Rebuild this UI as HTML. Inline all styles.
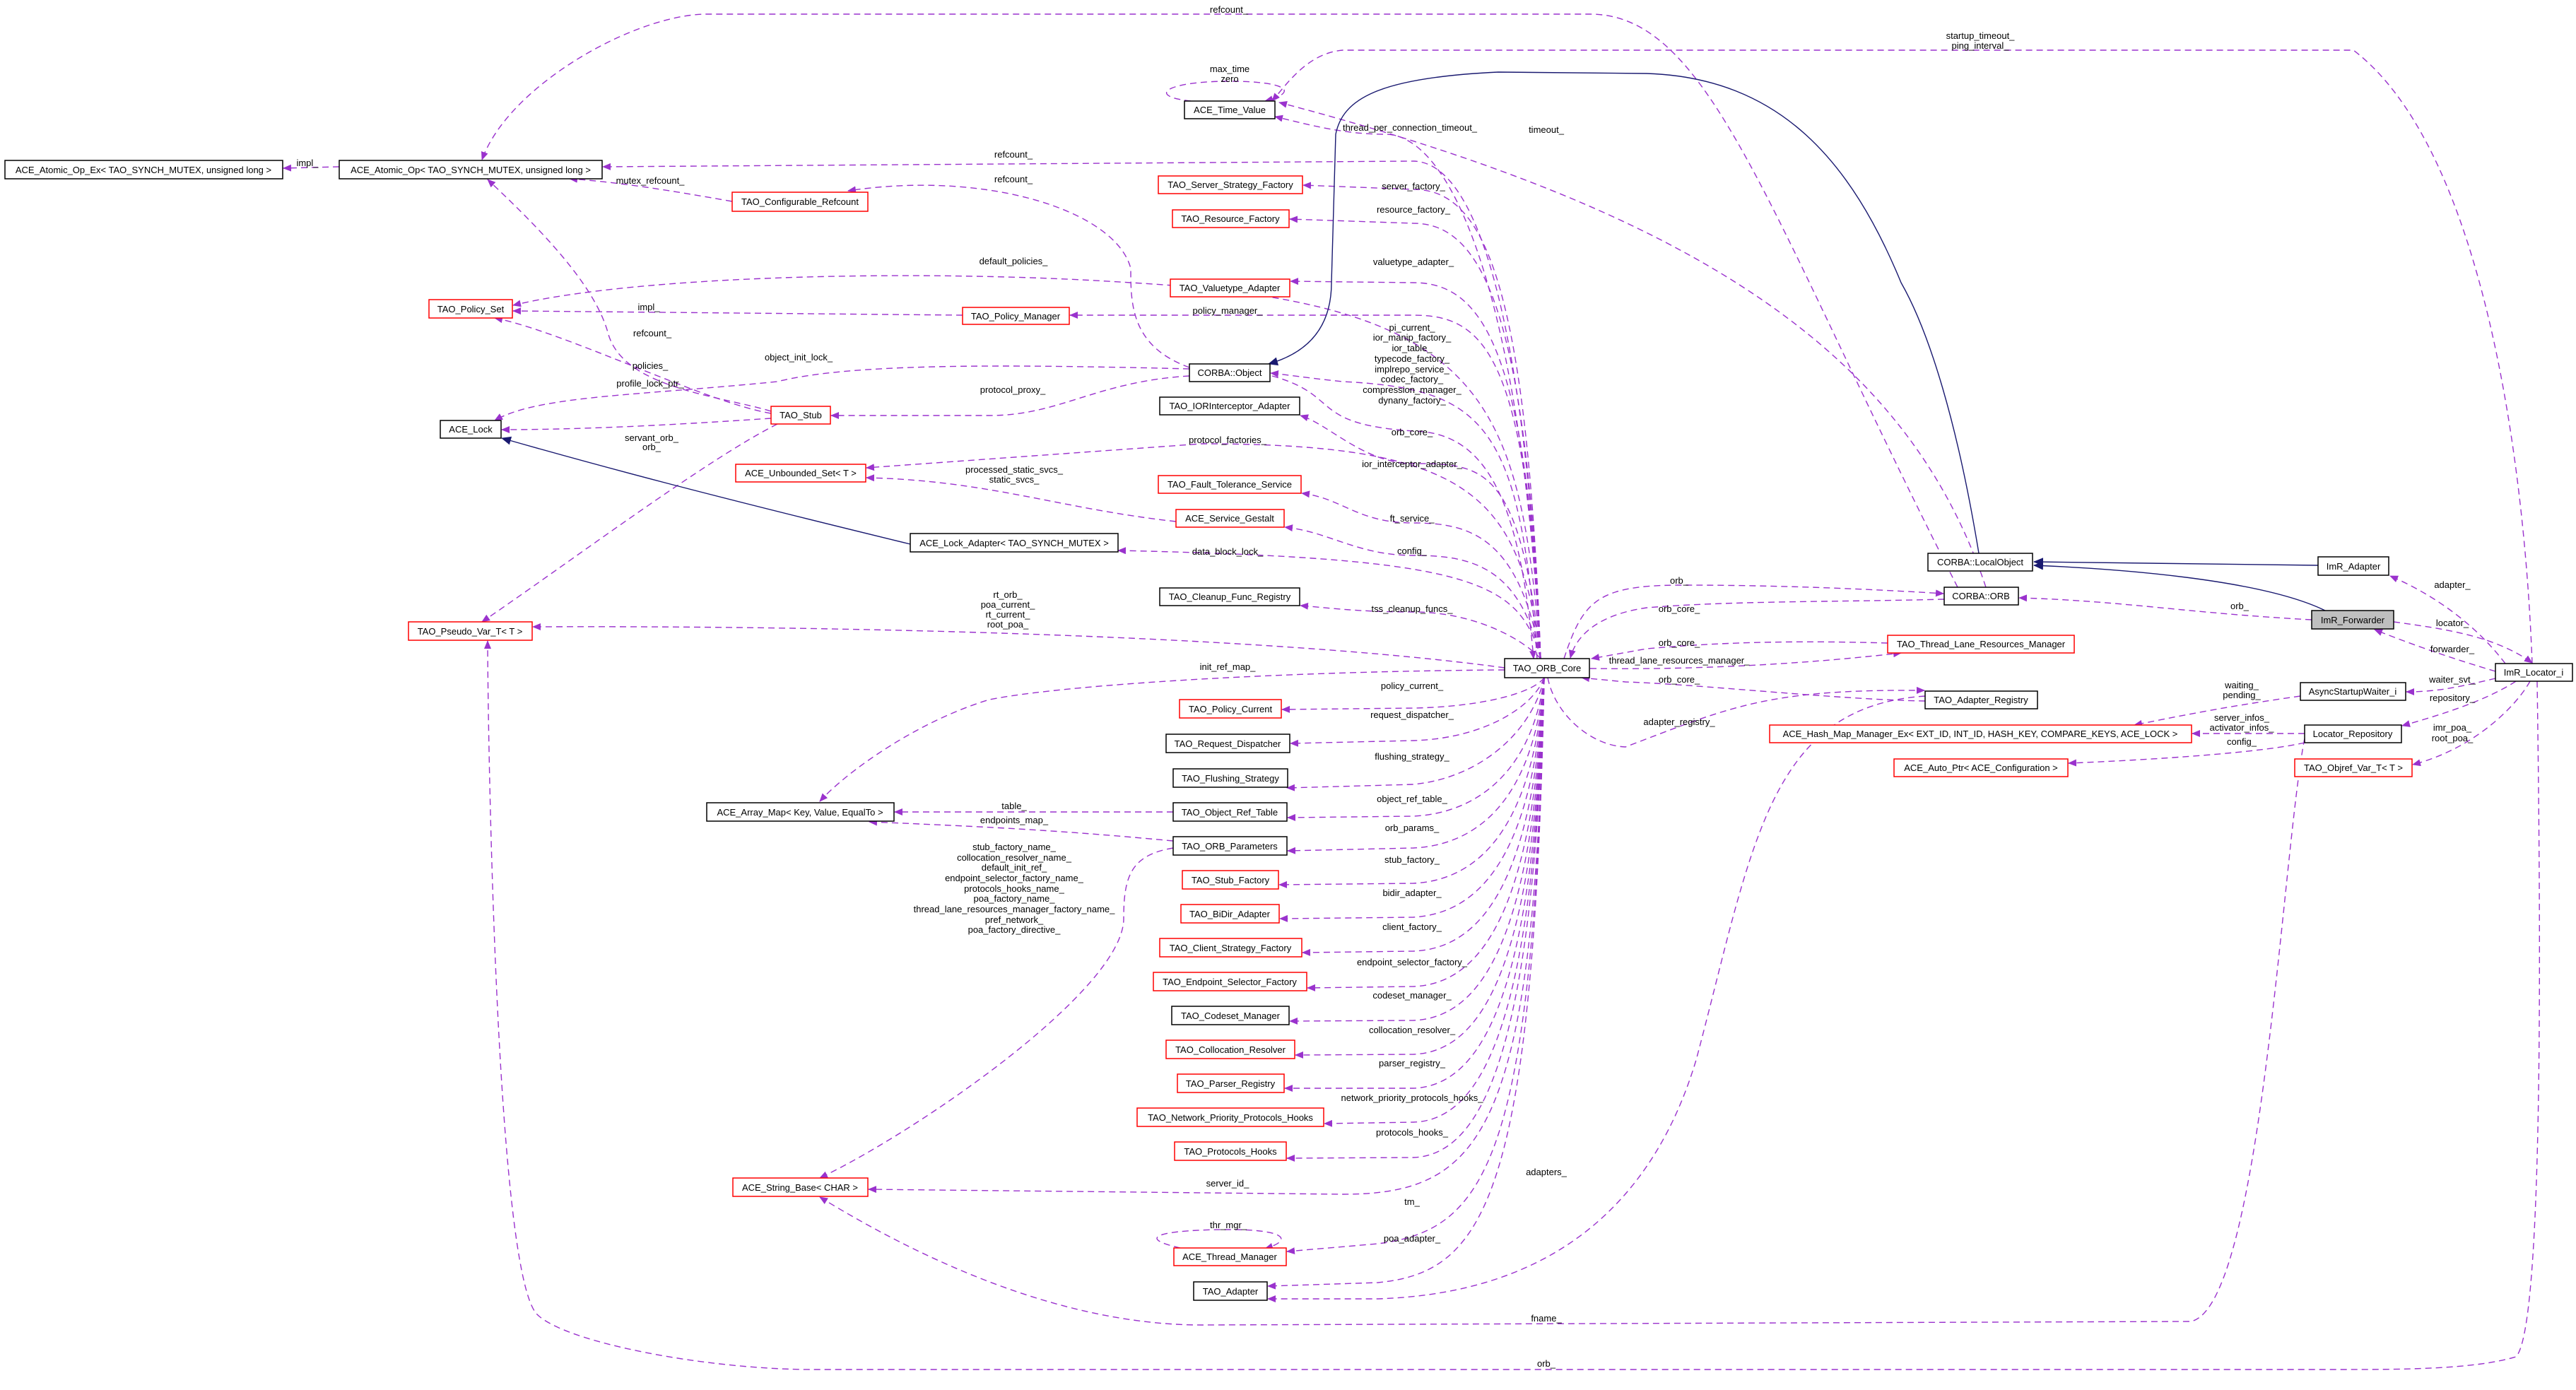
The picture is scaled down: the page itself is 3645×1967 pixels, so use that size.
<!DOCTYPE html>
<html><head><meta charset="utf-8"><style>
html,body{margin:0;padding:0;background:#fff}
svg{display:block}
text{font-family:"Liberation Sans",sans-serif;font-size:13px;fill:#000}
.n text{text-anchor:middle}
.e{fill:none;stroke:#9a32cd;stroke-width:1.4;stroke-dasharray:9,6}
.s{fill:none;stroke:#191970;stroke-width:1.4}
.l{text-anchor:middle}
</style></head><body>
<svg width="3645" height="1967" viewBox="0 0 3645 1967" xmlns="http://www.w3.org/2000/svg">
<defs>
<marker id="a" markerWidth="12" markerHeight="10" refX="11" refY="5" orient="auto" markerUnits="userSpaceOnUse"><path d="M0,0 L12,5 L0,10 z" fill="#9a32cd"/></marker>
<marker id="b" markerWidth="14" markerHeight="12" refX="13" refY="6" orient="auto" markerUnits="userSpaceOnUse"><path d="M0,0 L14,6 L0,12 z" fill="#191970"/></marker>
</defs>

<g class="e" marker-end="url(#a)">
<path d="M2770,831 C2500,300 2420,20 2250,20 L1000,20 C900,20 720,120 682,226"/>
<path d="M2180,932 C2160,500 2100,230 2000,228 L853,236"/>
<path d="M2810,831 C2700,500 2400,300 1810,145"/>
<path d="M3583,939 C3570,600 3500,200 3330,71 L1900,71 C1850,75 1820,120 1800,143"/>
<path d="M2180,932 C2150,400 2050,190 1960,190 C1900,190 1850,176 1804,165"/>
<path d="M1700,144 C1620,140 1640,115 1740,115 C1820,115 1840,130 1790,143"/>
<path d="M2180,932 C2160,400 2100,268 2000,268 L1844,262"/>
<path d="M2180,932 C2160,450 2100,316 2000,316 L1825,310"/>
<path d="M2180,932 C2160,500 2100,400 2000,400 L1826,398"/>
<path d="M2180,932 C2160,500 2100,446 2000,446 L1514,446"/>
<path d="M2180,932 C2150,560 2100,428 1600,400 C1300,380 900,390 726,432"/>
<path d="M1362,446 L726,440"/>
<path d="M1683,520 C1600,490 1600,430 1600,380 C1580,300 1400,240 1200,270"/>
<path d="M1036,285 C950,270 880,258 806,253"/>
<path d="M480,236 L401,238"/>
<path d="M1091,582 C1020,560 880,550 860,470 C840,400 760,320 690,254"/>
<path d="M1091,585 C1000,570 800,470 700,450"/>
<path d="M1683,522 C1400,515 1200,515 1100,540 C900,560 760,560 700,595"/>
<path d="M1683,532 C1550,540 1500,588 1400,588 L1176,588"/>
<path d="M1091,592 C1000,598 850,608 710,608"/>
<path d="M1100,600 C1000,650 800,800 682,880"/>
<path d="M2175,932 C2150,600 2100,550 1900,540 C1850,535 1820,530 1798,528"/>
<path d="M1800,532 C1900,560 1850,600 2000,610 C2100,612 2150,700 2170,932"/>
<path d="M2180,932 C2150,660 2100,656 2000,656 C1930,656 1880,600 1840,588"/>
<path d="M2180,932 C2150,700 2080,628 1700,628 L1226,662"/>
<path d="M2180,932 C2150,760 2080,740 2000,740 C1920,740 1900,705 1842,698"/>
<path d="M2180,932 C2150,800 2080,786 2000,786 C1920,786 1880,752 1818,746"/>
<path d="M1664,738 C1500,720 1400,680 1226,676"/>
<path d="M2180,932 C2150,820 2080,790 1582,779"/>
<path d="M2180,932 C2150,900 2080,866 2000,866 C1920,866 1880,860 1840,857"/>
<path d="M2129,945 C1800,900 1200,885 754,887"/>
<path d="M2129,948 C1800,950 1500,970 1400,990 C1300,1020 1200,1090 1160,1134"/>
<path d="M2185,959 C2170,980 2100,1000 2000,1002 L1814,1004"/>
<path d="M2185,959 C2170,1000 2100,1045 2000,1048 L1826,1052"/>
<path d="M2185,959 C2170,1030 2100,1100 2000,1110 L1821,1115"/>
<path d="M2185,959 C2170,1080 2100,1150 2000,1155 L1822,1157"/>
<path d="M2185,959 C2170,1120 2100,1195 2000,1200 L1822,1204"/>
<path d="M2185,959 C2170,1160 2100,1245 2000,1250 L1810,1252"/>
<path d="M2185,959 C2170,1200 2100,1292 2000,1298 L1811,1300"/>
<path d="M2185,959 C2170,1240 2100,1342 2000,1346 L1843,1348"/>
<path d="M2185,959 C2170,1280 2100,1392 2000,1396 L1850,1398"/>
<path d="M2185,959 C2170,1320 2100,1440 2000,1444 L1825,1445"/>
<path d="M2185,959 C2170,1360 2100,1488 2000,1492 L1833,1493"/>
<path d="M2185,959 C2170,1400 2100,1536 2000,1540 L1818,1540"/>
<path d="M2185,959 C2170,1440 2100,1585 2000,1588 L1874,1590"/>
<path d="M2185,959 C2170,1480 2100,1634 2000,1638 L1821,1639"/>
<path d="M2185,959 C2170,1600 2100,1690 1900,1690 L1229,1683"/>
<path d="M2185,959 C2170,1650 2100,1740 1950,1760 L1821,1771"/>
<path d="M1670,1766 C1600,1750 1650,1740 1740,1740 C1820,1740 1830,1755 1790,1767"/>
<path d="M2185,959 C2170,1700 2100,1800 1950,1815 L1794,1820"/>
<path d="M2724,985 C2500,1000 2480,1200 2400,1500 C2340,1700 2200,1830 1950,1838 L1794,1838"/>
<path d="M1660,1200 C1600,1210 1590,1240 1590,1300 C1590,1400 1300,1600 1160,1667"/>
<path d="M1660,1190 C1500,1175 1400,1170 1230,1163"/>
<path d="M1660,1149 L1266,1149"/>
<path d="M3261,1045 C3230,1200 3200,1850 3100,1870 L1700,1875 C1500,1875 1300,1780 1160,1694"/>
<path d="M3590,964 C3595,1300 3600,1880 3560,1920 C3500,1938 3400,1938 3300,1938 L1150,1938 C1000,1938 800,1900 760,1860 C700,1800 690,1000 690,907"/>
<path d="M2213,932 C2240,850 2260,828 2380,828 C2500,828 2620,832 2750,840"/>
<path d="M2751,848 C2600,852 2450,850 2330,860 C2260,870 2230,900 2222,931"/>
<path d="M2671,910 C2500,905 2400,912 2330,918 L2252,932"/>
<path d="M2250,946 C2400,948 2550,940 2690,924"/>
<path d="M2724,992 C2600,990 2400,968 2300,965 L2238,959"/>
<path d="M2190,959 C2200,1010 2250,1055 2300,1057 C2450,1000 2500,975 2723,977"/>
<path d="M3271,877 C3100,868 3000,850 2857,846"/>
<path d="M3545,939 C3500,880 3440,840 3382,815"/>
<path d="M3387,880 C3460,890 3530,900 3583,938"/>
<path d="M3531,950 C3480,935 3420,915 3360,891"/>
<path d="M3531,960 C3480,972 3450,979 3405,979"/>
<path d="M3560,964 C3520,990 3460,1010 3399,1027"/>
<path d="M3580,964 C3560,1000 3500,1060 3414,1082"/>
<path d="M3255,985 C3150,1000 3100,1010 3020,1026"/>
<path d="M3261,1038 L3102,1038"/>
<path d="M3261,1051 C3200,1065 3050,1075 2927,1080"/>
</g>

<g class="s" marker-end="url(#b)">
<path d="M1288,770 C1000,700 850,660 710,620"/>
<path d="M2800,783 C2770,600 2730,470 2690,400 C2620,230 2520,110 2330,104 L2120,102 C1950,110 1900,140 1890,190 L1884,400 C1884,480 1830,505 1795,515"/>
<path d="M3280,800 L2878,795"/>
<path d="M3290,864 C3200,820 3000,805 2878,800"/>
</g>

<g class="n" stroke-width="1.5">
<g><rect x="7" y="227" width="393" height="26" fill="#fff" stroke="#000"/><text x="203" y="245">ACE_Atomic_Op_Ex&lt; TAO_SYNCH_MUTEX, unsigned long &gt;</text></g>
<g><rect x="480" y="227" width="372" height="26" fill="#fff" stroke="#000"/><text x="666" y="245">ACE_Atomic_Op&lt; TAO_SYNCH_MUTEX, unsigned long &gt;</text></g>
<g><rect x="1036" y="272" width="192" height="27" fill="#fff" stroke="#f00"/><text x="1132" y="290">TAO_Configurable_Refcount</text></g>
<g><rect x="607" y="424" width="118" height="26" fill="#fff" stroke="#f00"/><text x="666" y="442">TAO_Policy_Set</text></g>
<g><rect x="623" y="595" width="86" height="25" fill="#fff" stroke="#000"/><text x="666" y="612">ACE_Lock</text></g>
<g><rect x="1091" y="575" width="84" height="25" fill="#fff" stroke="#f00"/><text x="1133" y="592">TAO_Stub</text></g>
<g><rect x="1041" y="657" width="184" height="25" fill="#fff" stroke="#f00"/><text x="1133" y="674">ACE_Unbounded_Set&lt; T &gt;</text></g>
<g><rect x="578" y="880" width="175" height="26" fill="#fff" stroke="#f00"/><text x="665" y="898">TAO_Pseudo_Var_T&lt; T &gt;</text></g>
<g><rect x="1676" y="143" width="128" height="25" fill="#fff" stroke="#000"/><text x="1740" y="160">ACE_Time_Value</text></g>
<g><rect x="1639" y="249" width="204" height="25" fill="#fff" stroke="#f00"/><text x="1741" y="266">TAO_Server_Strategy_Factory</text></g>
<g><rect x="1659" y="297" width="165" height="25" fill="#fff" stroke="#f00"/><text x="1741" y="314">TAO_Resource_Factory</text></g>
<g><rect x="1656" y="395" width="169" height="25" fill="#fff" stroke="#f00"/><text x="1740" y="412">TAO_Valuetype_Adapter</text></g>
<g><rect x="1362" y="435" width="151" height="24" fill="#fff" stroke="#f00"/><text x="1437" y="452">TAO_Policy_Manager</text></g>
<g><rect x="1683" y="515" width="114" height="25" fill="#fff" stroke="#000"/><text x="1740" y="532">CORBA::Object</text></g>
<g><rect x="1641" y="562" width="198" height="25" fill="#fff" stroke="#000"/><text x="1740" y="579">TAO_IORInterceptor_Adapter</text></g>
<g><rect x="1639" y="673" width="202" height="25" fill="#fff" stroke="#f00"/><text x="1740" y="690">TAO_Fault_Tolerance_Service</text></g>
<g><rect x="1664" y="721" width="153" height="25" fill="#fff" stroke="#f00"/><text x="1740" y="738">ACE_Service_Gestalt</text></g>
<g><rect x="1288" y="755" width="294" height="26" fill="#fff" stroke="#000"/><text x="1435" y="773">ACE_Lock_Adapter&lt; TAO_SYNCH_MUTEX &gt;</text></g>
<g><rect x="1641" y="832" width="198" height="25" fill="#fff" stroke="#000"/><text x="1740" y="849">TAO_Cleanup_Func_Registry</text></g>
<g><rect x="2129" y="932" width="120" height="27" fill="#fff" stroke="#000"/><text x="2189" y="950">TAO_ORB_Core</text></g>
<g><rect x="1669" y="990" width="144" height="26" fill="#fff" stroke="#f00"/><text x="1741" y="1008">TAO_Policy_Current</text></g>
<g><rect x="1650" y="1039" width="175" height="26" fill="#fff" stroke="#000"/><text x="1737" y="1057">TAO_Request_Dispatcher</text></g>
<g><rect x="1660" y="1088" width="162" height="26" fill="#fff" stroke="#000"/><text x="1741" y="1106">TAO_Flushing_Strategy</text></g>
<g><rect x="1660" y="1136" width="161" height="26" fill="#fff" stroke="#000"/><text x="1740" y="1154">TAO_Object_Ref_Table</text></g>
<g><rect x="1660" y="1184" width="161" height="26" fill="#fff" stroke="#000"/><text x="1740" y="1202">TAO_ORB_Parameters</text></g>
<g><rect x="1673" y="1232" width="136" height="26" fill="#fff" stroke="#f00"/><text x="1741" y="1250">TAO_Stub_Factory</text></g>
<g><rect x="1671" y="1280" width="139" height="26" fill="#fff" stroke="#f00"/><text x="1740" y="1298">TAO_BiDir_Adapter</text></g>
<g><rect x="1641" y="1328" width="201" height="26" fill="#fff" stroke="#f00"/><text x="1741" y="1346">TAO_Client_Strategy_Factory</text></g>
<g><rect x="1632" y="1376" width="217" height="26" fill="#fff" stroke="#f00"/><text x="1740" y="1394">TAO_Endpoint_Selector_Factory</text></g>
<g><rect x="1658" y="1424" width="166" height="26" fill="#fff" stroke="#000"/><text x="1741" y="1442">TAO_Codeset_Manager</text></g>
<g><rect x="1650" y="1472" width="182" height="26" fill="#fff" stroke="#f00"/><text x="1741" y="1490">TAO_Collocation_Resolver</text></g>
<g><rect x="1666" y="1520" width="151" height="26" fill="#fff" stroke="#f00"/><text x="1741" y="1538">TAO_Parser_Registry</text></g>
<g><rect x="1609" y="1568" width="264" height="26" fill="#fff" stroke="#f00"/><text x="1741" y="1586">TAO_Network_Priority_Protocols_Hooks</text></g>
<g><rect x="1662" y="1616" width="158" height="26" fill="#fff" stroke="#f00"/><text x="1741" y="1634">TAO_Protocols_Hooks</text></g>
<g><rect x="1037" y="1667" width="191" height="26" fill="#fff" stroke="#f00"/><text x="1132" y="1685">ACE_String_Base&lt; CHAR &gt;</text></g>
<g><rect x="1661" y="1766" width="159" height="25" fill="#fff" stroke="#f00"/><text x="1740" y="1783">ACE_Thread_Manager</text></g>
<g><rect x="1689" y="1814" width="104" height="26" fill="#fff" stroke="#000"/><text x="1741" y="1832">TAO_Adapter</text></g>
<g><rect x="1000" y="1136" width="265" height="26" fill="#fff" stroke="#000"/><text x="1132" y="1154">ACE_Array_Map&lt; Key, Value, EqualTo &gt;</text></g>
<g><rect x="2728" y="783" width="148" height="25" fill="#fff" stroke="#000"/><text x="2802" y="800">CORBA::LocalObject</text></g>
<g><rect x="3280" y="788" width="100" height="26" fill="#fff" stroke="#000"/><text x="3330" y="806">ImR_Adapter</text></g>
<g><rect x="2751" y="831" width="105" height="25" fill="#fff" stroke="#000"/><text x="2803" y="848">CORBA::ORB</text></g>
<g><rect x="3271" y="864" width="116" height="26" fill="#bfbfbf" stroke="#000"/><text x="3329" y="882">ImR_Forwarder</text></g>
<g><rect x="2671" y="899" width="264" height="25" fill="#fff" stroke="#f00"/><text x="2803" y="916">TAO_Thread_Lane_Resources_Manager</text></g>
<g><rect x="3531" y="939" width="109" height="25" fill="#fff" stroke="#000"/><text x="3585" y="956">ImR_Locator_i</text></g>
<g><rect x="3255" y="966" width="149" height="25" fill="#fff" stroke="#000"/><text x="3329" y="983">AsyncStartupWaiter_i</text></g>
<g><rect x="2724" y="978" width="159" height="25" fill="#fff" stroke="#000"/><text x="2803" y="995">TAO_Adapter_Registry</text></g>
<g><rect x="2504" y="1026" width="597" height="25" fill="#fff" stroke="#f00"/><text x="2802" y="1043">ACE_Hash_Map_Manager_Ex&lt; EXT_ID, INT_ID, HASH_KEY, COMPARE_KEYS, ACE_LOCK &gt;</text></g>
<g><rect x="3261" y="1026" width="137" height="25" fill="#fff" stroke="#000"/><text x="3329" y="1043">Locator_Repository</text></g>
<g><rect x="2680" y="1074" width="246" height="25" fill="#fff" stroke="#f00"/><text x="2803" y="1091">ACE_Auto_Ptr&lt; ACE_Configuration &gt;</text></g>
<g><rect x="3247" y="1074" width="166" height="25" fill="#fff" stroke="#f00"/><text x="3330" y="1091">TAO_Objref_Var_T&lt; T &gt;</text></g>
</g>

<g class="l">
<text x="1739" y="18">refcount_</text>
<text x="2802" y="55">startup_timeout_</text>
<text x="2802" y="69">ping_interval_</text>
<text x="1740" y="102">max_time</text>
<text x="1740" y="116">zero</text>
<text x="1995" y="185">thread_per_connection_timeout_</text>
<text x="2188" y="188">timeout_</text>
<text x="1434" y="223">refcount_</text>
<text x="1434" y="258">refcount_</text>
<text x="435" y="235">impl_</text>
<text x="920" y="260">mutex_refcount_</text>
<text x="2000" y="268">server_factory_</text>
<text x="2000" y="301">resource_factory_</text>
<text x="1434" y="374">default_policies_</text>
<text x="2000" y="375">valuetype_adapter_</text>
<text x="918" y="439">impl_</text>
<text x="1737" y="444">policy_manager_</text>
<text x="923" y="476">refcount_</text>
<text x="1998" y="468">pi_current_</text>
<text x="1998" y="482">ior_manip_factory_</text>
<text x="1998" y="497">ior_table_</text>
<text x="1998" y="512">typecode_factory_</text>
<text x="1998" y="527">implrepo_service_</text>
<text x="1998" y="541">codec_factory_</text>
<text x="1998" y="556">compression_manager_</text>
<text x="1998" y="571">dynany_factory_</text>
<text x="1130" y="510">object_init_lock_</text>
<text x="920" y="522">policies_</text>
<text x="920" y="547">profile_lock_ptr_</text>
<text x="1433" y="556">protocol_proxy_</text>
<text x="1998" y="616">orb_core_</text>
<text x="1737" y="627">protocol_factories_</text>
<text x="922" y="624">servant_orb_</text>
<text x="922" y="637">orb_</text>
<text x="1998" y="661">ior_interceptor_adapter_</text>
<text x="1435" y="669">processed_static_svcs_</text>
<text x="1435" y="683">static_svcs_</text>
<text x="1998" y="738">ft_service_</text>
<text x="1998" y="784">config_</text>
<text x="1737" y="785">data_block_lock_</text>
<text x="1998" y="866">tss_cleanup_funcs_</text>
<text x="1426" y="846">rt_orb_</text>
<text x="1426" y="860">poa_current_</text>
<text x="1426" y="874">rt_current_</text>
<text x="1426" y="888">root_poa_</text>
<text x="1737" y="948">init_ref_map_</text>
<text x="1998" y="975">policy_current_</text>
<text x="1998" y="1016">request_dispatcher_</text>
<text x="1998" y="1075">flushing_strategy_</text>
<text x="1998" y="1135">object_ref_table_</text>
<text x="1998" y="1176">orb_params_</text>
<text x="1998" y="1221">stub_factory_</text>
<text x="1998" y="1268">bidir_adapter_</text>
<text x="1998" y="1316">client_factory_</text>
<text x="1998" y="1366">endpoint_selector_factory_</text>
<text x="1998" y="1413">codeset_manager_</text>
<text x="1998" y="1462">collocation_resolver_</text>
<text x="1998" y="1509">parser_registry_</text>
<text x="1998" y="1558">network_priority_protocols_hooks_</text>
<text x="1998" y="1607">protocols_hooks_</text>
<text x="1737" y="1679">server_id_</text>
<text x="1998" y="1705">tm_</text>
<text x="1738" y="1738">thr_mgr_</text>
<text x="1998" y="1757">poa_adapter_</text>
<text x="2188" y="1663">adapters_</text>
<text x="2188" y="1870">fname_</text>
<text x="2188" y="1934">orb_</text>
<text x="1435" y="1145">table_</text>
<text x="1435" y="1165">endpoints_map_</text>
<text x="1435" y="1203">stub_factory_name_</text>
<text x="1435" y="1218">collocation_resolver_name_</text>
<text x="1435" y="1232">default_init_ref_</text>
<text x="1435" y="1247">endpoint_selector_factory_name_</text>
<text x="1435" y="1262">protocols_hooks_name_</text>
<text x="1435" y="1276">poa_factory_name_</text>
<text x="1435" y="1291">thread_lane_resources_manager_factory_name_</text>
<text x="1435" y="1306">pref_network_</text>
<text x="1435" y="1320">poa_factory_directive_</text>
<text x="2376" y="826">orb_</text>
<text x="2376" y="866">orb_core_</text>
<text x="2376" y="914">orb_core_</text>
<text x="2376" y="939">thread_lane_resources_manager_</text>
<text x="2376" y="966">orb_core_</text>
<text x="2376" y="1026">adapter_registry_</text>
<text x="3169" y="862">orb_</text>
<text x="3470" y="832">adapter_</text>
<text x="3470" y="886">locator_</text>
<text x="3470" y="923">forwarder_</text>
<text x="3470" y="966">waiter_svt_</text>
<text x="3470" y="992">repository_</text>
<text x="3470" y="1034">imr_poa_</text>
<text x="3470" y="1049">root_poa_</text>
<text x="3172" y="974">waiting_</text>
<text x="3172" y="988">pending_</text>
<text x="3172" y="1020">server_infos_</text>
<text x="3172" y="1034">activator_infos_</text>
<text x="3172" y="1054">config_</text>
</g>
</svg>
</body></html>
